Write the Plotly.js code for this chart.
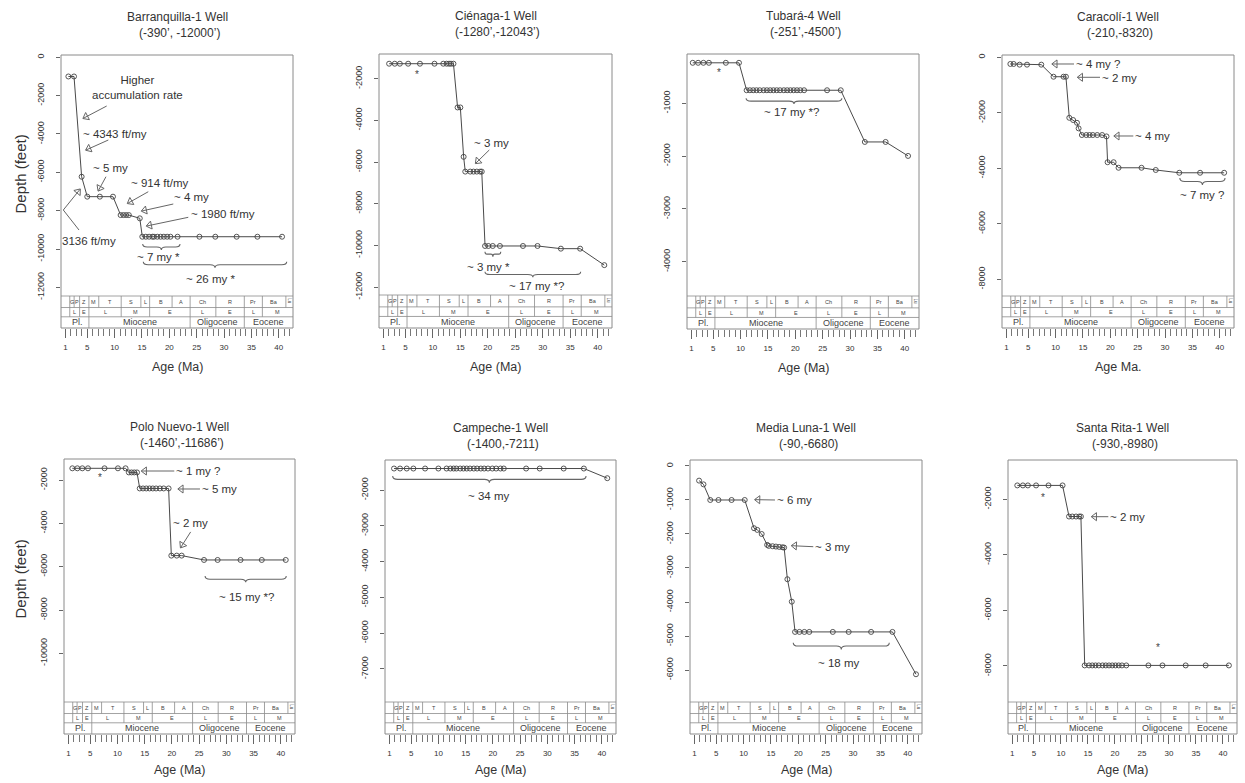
<!DOCTYPE html>
<html><head><meta charset="utf-8">
<script src="https://cdn.plot.ly/plotly-3.0.1.min.js"></script>
<style>html,body{margin:0;padding:0;background:#fff;} #chart{width:1245px;height:783px;}</style>
</head><body><div id="chart"></div>
<script>
// ---------------- data (age in Ma, depth in feet) ----------------
const barranquillaAge   = [1.55, 2.58, 3.97, 5.0, 7.3, 9.7, 11.1, 11.6, 12.1, 12.6, 14.6, 15.06, 15.7, 16.3, 16.9, 17.2, 17.8, 18.4, 19.0, 19.6, 20.2, 21.5, 25.5, 28.4, 32.3, 36.1, 40.6];
const barranquillaDepth = [-1000, -1000, -6230, -7270, -7270, -7270, -8230, -8230, -8230, -8230, -8400, -9360, -9360, -9360, -9360, -9360, -9360, -9360, -9360, -9360, -9360, -9360, -9360, -9360, -9360, -9360, -9360];

const cienagaAge   = [2.04, 3.07, 3.99, 5.5, 7.65, 10.3, 11.9, 12.5, 12.95, 13.3, 13.75, 14.5, 15.0, 15.6, 15.9, 16.8, 17.4, 18.0, 18.6, 18.9, 19.5, 20.1, 20.9, 22.2, 26.4, 29.05, 33.3, 36.8, 41.2];
const cienagaDepth = [-1280, -1280, -1280, -1280, -1280, -1280, -1280, -1280, -1280, -1280, -1280, -3380, -3380, -5750, -6460, -6460, -6460, -6460, -6460, -6460, -10030, -10030, -10030, -10030, -10030, -10030, -10160, -10160, -10950];

const tubaraAge   = [1.25, 2.23, 3.2, 4.2, 7.3, 9.7, 11.1, 11.7, 12.3, 12.9, 13.5, 14.2, 14.8, 15.4, 16.0, 16.6, 17.2, 17.9, 18.5, 19.1, 19.7, 20.3, 20.9, 21.6, 25.8, 28.3, 32.7, 36.5, 40.6];
const tubaraDepth = [-230, -230, -230, -230, -230, -230, -750, -750, -750, -750, -750, -750, -750, -750, -750, -750, -750, -750, -750, -750, -750, -750, -750, -750, -750, -750, -1730, -1730, -1995];

const caracoliAge   = [1.73, 2.33, 3.42, 4.77, 7.38, 9.62, 11.44, 11.88, 12.5, 13.2, 13.9, 14.2, 14.8, 15.6, 16.2, 16.8, 17.6, 18.5, 19.3, 19.5, 20.6, 21.5, 25.7, 28.3, 32.6, 36.4, 40.8];
const caracoliDepth = [-240, -240, -265, -265, -265, -700, -700, -700, -2180, -2260, -2360, -2560, -2800, -2800, -2800, -2800, -2800, -2800, -2850, -3780, -3780, -3980, -3980, -4060, -4160, -4160, -4160];

const poloNuevoAge   = [1.73, 2.65, 3.56, 4.6, 7.64, 10.1, 11.5, 12.1, 12.6, 13.1, 13.6, 14.1, 14.7, 15.3, 15.9, 16.5, 17.1, 17.8, 18.5, 19.4, 19.9, 20.9, 21.8, 25.9, 28.4, 32.6, 36.5, 40.9];
const poloNuevoDepth = [-1460, -1460, -1460, -1460, -1460, -1460, -1460, -1650, -1650, -1650, -1650, -2390, -2390, -2390, -2390, -2390, -2390, -2390, -2390, -2390, -5490, -5490, -5490, -5690, -5690, -5690, -5690, -5690];

const campecheAge   = [1.86, 2.96, 4.19, 5.41, 7.56, 10.0, 11.5, 12.2, 12.8, 13.3, 14.0, 14.6, 15.2, 15.8, 16.5, 17.1, 17.8, 18.4, 19.1, 19.9, 20.6, 21.4, 22.0, 26.1, 28.6, 33.0, 36.7, 41.0];
const campecheDepth = [-1400, -1400, -1400, -1400, -1400, -1400, -1400, -1400, -1400, -1400, -1400, -1400, -1400, -1400, -1400, -1400, -1400, -1400, -1400, -1400, -1400, -1400, -1400, -1400, -1400, -1400, -1400, -1670];

const mediaLunaAge   = [1.86, 2.66, 3.9, 5.4, 7.8, 10.2, 11.9, 12.5, 13.3, 14.3, 14.6, 15.3, 15.9, 16.5, 17.1, 17.4, 18.0, 18.8, 19.4, 20.2, 21.1, 22.0, 26.3, 29.2, 33.3, 37.2, 41.5];
const mediaLunaDepth = [-430, -540, -1000, -1000, -1000, -1000, -1830, -1880, -2000, -2320, -2350, -2360, -2370, -2380, -2390, -2400, -3330, -3990, -4880, -4880, -4880, -4880, -4880, -4880, -4880, -4880, -6125];

const santaRitaAge   = [1.92, 2.96, 3.88, 5.4, 7.7, 10.3, 11.5, 12.1, 12.8, 13.4, 13.7, 14.4, 15.2, 15.8, 16.4, 17.0, 17.7, 18.3, 18.9, 19.5, 20.1, 20.7, 21.3, 22.1, 26.2, 28.8, 33.1, 36.8, 41.1];
const santaRitaDepth = [-1500, -1500, -1500, -1500, -1500, -1500, -2620, -2620, -2620, -2620, -2620, -7980, -7980, -7980, -7980, -7980, -7980, -7980, -7980, -7980, -7980, -7980, -7980, -7980, -7980, -7980, -7980, -7980, -7980];

const wellNames  = ["Barranquilla-1 Well", "Ciénaga-1 Well", "Tubará-4 Well", "Caracolí-1 Well", "Polo Nuevo-1 Well", "Campeche-1 Well", "Media Luna-1 Well", "Santa Rita-1 Well"];
const wellRanges = ["(-390’, -12000’)", "(-1280’,-12043’)", "(-251’,-4500’)", "(-210,-8320)", "(-1460’,-11686’)", "(-1400,-7211)", "(-90,-6680)", "(-930,-8980)"];
const xTitles    = ["Age (Ma)", "Age (Ma)", "Age (Ma)", "Age Ma.", "Age (Ma)", "Age (Ma)", "Age (Ma)", "Age (Ma)"];
const ageTicks   = [1, 5, 10, 15, 20, 25, 30, 35, 40];

// geologic time scale (Berggren et al. 1995)
const stageBounds = [1.8, 2.6, 3.6, 5.3, 7.1, 11.2, 14.8, 16.4, 20.5, 23.8, 28.5, 33.7, 37.0, 41.3];
const stageLabels = ["G", "P", "Z", "M", "T", "S", "L", "B", "A", "Ch", "R", "Pr", "Ba", "Lu"];
const subBounds   = [1.8, 3.6, 5.3, 11.2, 16.4, 23.8, 28.5, 33.7, 37.0];
const subLabels   = ["L", "E", "L", "M", "E", "L", "E", "L", "M"];
const epochBounds = [1.0, 5.3, 23.8, 33.7];
const epochLabels = ["Pl.", "Miocene", "Oligocene", "Eocene"];

const wellAges   = [barranquillaAge, cienagaAge, tubaraAge, caracoliAge, poloNuevoAge, campecheAge, mediaLunaAge, santaRitaAge];
const wellDepths = [barranquillaDepth, cienagaDepth, tubaraDepth, caracoliDepth, poloNuevoDepth, campecheDepth, mediaLunaDepth, santaRitaDepth];

// ---------------- layout geometry (pixels) ----------------
const W = 1245, H = 783;
const X_RANGE = [0.2, 42.6];
const panels = [
  {box: [61, 293, 55, 296, 328],  yr: [-12452, 120],  yt: [0, -2000, -4000, -6000, -8000, -10000, -12000]},
  {box: [379, 612, 54, 295, 328], yr: [-12384, -814], yt: [-2000, -4000, -6000, -8000, -10000, -12000]},
  {box: [687, 919, 54, 296, 329], yr: [-4650, -63],   yt: [-1000, -2000, -3000, -4000]},
  {box: [1002, 1234, 55, 296, 328], yr: [-8600, 83],  yt: [0, -2000, -4000, -6000, -8000]},
  {box: [64, 295, 459, 702, 734], yr: [-12245, -1031], yt: [-2000, -4000, -6000, -8000, -10000]},
  {box: [385, 616, 460, 702, 734], yr: [-7922, -1162], yt: [-2000, -3000, -4000, -5000, -6000, -7000]},
  {box: [690, 922, 460, 702, 734], yr: [-6941, 176],  yt: [0, -1000, -2000, -3000, -4000, -5000, -6000]},
  {box: [1008, 1237, 460, 702, 734], yr: [-9297, -585], yt: [-2000, -4000, -6000, -8000]}
];

// ---------------- annotations (data coords) ----------------
const arrows = [ // [panel, tailAge, tailDepth, tipAge, tipDepth, head]
  [0, 8.55, -2541, 4.28, -3182, 1], [0, 8.85, -4314, 4.77, -4836, 1], [0, 8.42, -6229, 7.02, -6960, 1],
  [0, 16.15, -7012, 12.39, -7617, 1], [0, 20.72, -7653, 14.95, -8019, 1], [0, 23.46, -8347, 15.86, -8801, 1],
  [0, 0.62, -7966, 3.67, -6887, 1], [0, 0.62, -7966, 3.49, -9010, 0],
  [1, 20.27, -5422, 17.8, -6060, 1],
  [3, 13.36, -241, 9.39, -241, 1], [3, 18.11, -720, 14.04, -720, 1], [3, 24.2, -2835, 20.72, -2835, 1],
  [4, 20.44, -1585, 14.45, -1585, 1], [4, 25.16, -2415, 21.18, -2415, 1], [4, 23.45, -4396, 21.62, -5116, 1],
  [6, 15.73, -1000, 12.08, -990, 1], [6, 22.73, -2374, 18.78, -2344, 1],
  [7, 18.77, -2626, 15.7, -2626, 1]
];
const notes = [ // [panel, age, depth, text, anchor]
  [0, 14.1, -1550, "Higher<br>accumulation rate", "center"], [0, 10.07, -4017, "~ 4343 ft/my", "center"],
  [0, 9.16, -5791, "~ 5 my", "center"], [0, 18.17, -6573, "~ 914 ft/my", "center"], [0, 24.08, -7272, "~ 4 my", "center"],
  [0, 29.86, -8191, "~ 1980 ft/my", "center"], [0, 5.37, -9568, "3136 ft/my", "center"],
  [0, 17.98, -10403, "~ 7 my *", "center"], [0, 27.56, -11582, "~ 26 my *", "center"],
  [1, 20.71, -5101, "~ 3 my", "center"], [1, 20.09, -11024, "~ 3 my *", "center"], [1, 28.9, -11935, "~ 17 my *?", "center"],
  [2, 19.33, -1156, "~ 17 my *?", "center"],
  [3, 13.3, -250, "~ 4 my ?", "left"], [3, 18.05, -735, "~ 2 my", "left"], [3, 24.1, -2835, "~ 4 my", "left"], [3, 36.7, -4961, "~ 7 my ?", "center"],
  [4, 20.4, -1585, "~ 1 my ?", "left"], [4, 25.1, -2415, "~ 5 my", "left"], [4, 23.33, -3970, "~ 2 my", "center"], [4, 33.7, -7413, "~ 15 my *?", "center"],
  [5, 19.16, -2168, "~ 34 my", "center"],
  [6, 15.7, -1000, "~ 6 my", "left"], [6, 22.7, -2374, "~ 3 my", "left"], [6, 27.3, -5803, "~ 18 my", "center"],
  [7, 18.75, -2626, "~ 2 my", "left"]
];
const braces = [ // [panel, age0, age1, depthEnds, depthTip]
  [0, 15.13, 21.95, -9740, -10053], [0, 15.24, 41.45, -10664, -10977],
  [1, 19.49, 22.35, -10304, -10544], [1, 19.49, 36.9, -11264, -11534],
  [2, 11.0, 28.5, -903, -1011],
  [3, 32.7, 40.96, -4349, -4601],
  [4, 26.1, 40.99, -6431, -6723],
  [5, 1.61, 37.1, -1609, -1795],
  [6, 19.07, 36.62, -5197, -5394]
];
const stars = [[1, 7.06, -1630], [2, 6.05, -366], [4, 6.81, -1769], [7, 6.74, -1809], [7, 28.03, -7243]];

// ---------------- build figure ----------------
const FONT = "Liberation Sans, Arial, sans-serif";
const TXT = "#333";
const GRAY = "#666";
const FRAME = "#8a8a8a";
const px2x = p => p / W;
const px2y = p => 1 - p / H;

const traces = [], shapes = [], annotations = [];
const layout = {
  width: W, height: H, margin: {l: 0, r: 0, t: 0, b: 0},
  paper_bgcolor: "#fff", plot_bgcolor: "#fff", showlegend: false,
  font: {family: FONT, color: TXT}
};

function bracePath(x0, x1, yTop, yTip) {
  const xm = (x0 + x1) / 2, c = Math.min(0.9, (x1 - x0) * 0.12), yMid = (yTop + yTip) / 2;
  return `M${x0},${yTop} Q${x0},${yMid} ${x0 + c},${yMid} L${xm - c},${yMid} Q${xm},${yMid} ${xm},${yTip} ` +
         `Q${xm},${yMid} ${xm + c},${yMid} L${x1 - c},${yMid} Q${x1},${yMid} ${x1},${yTop}`;
}

panels.forEach((p, i) => {
  const [L, R, T, PB, B] = p.box;
  const n = i === 0 ? "" : String(i + 1);
  const xn = "x" + n, yn = "y" + n;
  layout["xaxis" + n] = {
    domain: [px2x(L), px2x(R)], range: X_RANGE, anchor: "free", position: px2y(B),
    tickvals: ageTicks, ticks: "outside", ticklen: 9, tickwidth: 1, tickcolor: "#666",
    tickfont: {size: 8, color: TXT, family: FONT}, ticklabelstandoff: 2,
    showgrid: false, zeroline: false, showline: false, fixedrange: true,
    minor: {dtick: 1, tick0: 0, ticks: "outside", ticklen: 7, tickwidth: 1, tickcolor: "#777", showgrid: false}
  };
  layout["yaxis" + n] = {
    domain: [px2y(PB), px2y(T)], range: p.yr, anchor: xn,
    tickvals: p.yt, ticktext: p.yt.map(v => String(v)), tickangle: -90,
    ticks: "outside", ticklen: 4, tickcolor: "#666", ticklabelstandoff: 8,
    tickfont: {size: 9, color: TXT, family: FONT},
    showgrid: false, zeroline: false, showline: false, fixedrange: true
  };

  // data trace
  traces.push({
    x: wellAges[i], y: wellDepths[i], xaxis: xn, yaxis: yn, type: "scatter", mode: "lines+markers",
    line: {color: "#4a4a4a", width: 1},
    marker: {symbol: "circle-open", size: 5, color: "#444", line: {width: 0.9}},
    hoverinfo: "x+y", cliponaxis: false
  });

  // frame and time scale
  shapes.push({type: "rect", xref: "paper", yref: "paper", x0: px2x(L), x1: px2x(R), y0: px2y(B), y1: px2y(T),
    line: {color: FRAME, width: 1}, layer: "above"});
  const r0 = PB, r1 = PB + (B - PB) * 0.36, r2 = PB + (B - PB) * 0.65, r3 = B;
  [r0, r1, r2].forEach(r => shapes.push({type: "line", xref: "paper", yref: "paper",
    x0: px2x(L), x1: px2x(R), y0: px2y(r), y1: px2y(r), line: {color: FRAME, width: 0.8}}));
  const rowDef = [
    {bounds: stageBounds, labels: stageLabels, y0: r0, y1: r1, size: 5.5, drawFirst: true},
    {bounds: subBounds, labels: subLabels, y0: r1, y1: r2, size: 5.5, drawFirst: true},
    {bounds: epochBounds, labels: epochLabels, y0: r2, y1: r3, size: 9, drawFirst: false}
  ];
  rowDef.forEach(rd => {
    rd.bounds.forEach((b, k) => {
      if (k > 0 || rd.drawFirst) {
        shapes.push({type: "line", xref: xn, yref: "paper", x0: b, x1: b, y0: px2y(rd.y0), y1: px2y(rd.y1),
          line: {color: FRAME, width: 0.8}});
      }
      const end = k + 1 < rd.bounds.length ? rd.bounds[k + 1] : X_RANGE[1];
      const isTiny = rd.labels[k] === "Lu";
      annotations.push({xref: xn, yref: "paper", x: (b + end) / 2, y: px2y((rd.y0 + rd.y1) / 2),
        text: rd.labels[k], showarrow: false, textangle: isTiny ? 90 : 0,
        font: {size: isTiny ? 4.5 : rd.size, color: "#444", family: FONT}, xanchor: "center", yanchor: "middle"});
    });
  });

  // titles
  const cx = (L + R) / 2;
  const ty = i < 4 ? [T - 38, T - 22] : [T - 32, T - 16];
  annotations.push({xref: "paper", yref: "paper", x: px2x(cx), y: px2y(ty[0]), text: wellNames[i], showarrow: false,
    font: {size: 12, color: TXT, family: FONT}, xanchor: "center", yanchor: "middle"});
  annotations.push({xref: "paper", yref: "paper", x: px2x(cx + 2), y: px2y(ty[1]), text: wellRanges[i], showarrow: false,
    font: {size: 12, color: TXT, family: FONT}, xanchor: "center", yanchor: "middle"});
  annotations.push({xref: "paper", yref: "paper", x: px2x(cx), y: px2y(B + (i < 4 ? 39 : 36)), text: xTitles[i], showarrow: false,
    font: {size: 12.5, color: TXT, family: FONT}, xanchor: "center", yanchor: "middle"});
  if (i === 0 || i === 4) {
    annotations.push({xref: "paper", yref: "paper", x: px2x(20), y: px2y((T + PB) / 2 - 2), text: "Depth (feet)", showarrow: false,
      textangle: -90, font: {size: 15, color: TXT, family: FONT}, xanchor: "center", yanchor: "middle"});
  }
});

// arrows: line + white open-style triangle head
const headTraces = panels.map(() => ({x: [], y: [], a: []}));
arrows.forEach(([pi, tx, ty, hx, hy, head]) => {
  const p = panels[pi];
  const n = pi === 0 ? "" : String(pi + 1);
  shapes.push({type: "line", xref: "x" + n, yref: "y" + n, x0: tx, y0: ty, x1: hx, y1: hy,
    line: {color: GRAY, width: 1}});
  if (head) {
    const sx = (p.box[1] - p.box[0]) / (X_RANGE[1] - X_RANGE[0]);
    const sy = (p.box[3] - p.box[2]) / (p.yr[1] - p.yr[0]);
    const dxs = (hx - tx) * sx, dys = -(hy - ty) * sy;
    const len = Math.hypot(dxs, dys), ux = dxs / len, uy = dys / len;
    const back = 3;
    headTraces[pi].x.push(hx - ux * back / sx);
    headTraces[pi].y.push(hy + uy * back / sy);
    headTraces[pi].a.push(Math.atan2(dxs, -dys) * 180 / Math.PI);
  }
});
headTraces.forEach((h, pi) => {
  if (!h.x.length) return;
  const n = pi === 0 ? "" : String(pi + 1);
  traces.push({x: h.x, y: h.y, xaxis: "x" + n, yaxis: "y" + n, type: "scatter", mode: "markers",
    marker: {symbol: "triangle-up", size: 7, color: "#fff", angle: h.a, line: {color: GRAY, width: 1}},
    hoverinfo: "skip", cliponaxis: false});
});

braces.forEach(([pi, a0, a1, yTop, yTip]) => {
  const n = pi === 0 ? "" : String(pi + 1);
  shapes.push({type: "path", xref: "x" + n, yref: "y" + n, path: bracePath(a0, a1, yTop, yTip),
    line: {color: GRAY, width: 1.1}});
});

notes.forEach(([pi, x, y, text, anchor]) => {
  const n = pi === 0 ? "" : String(pi + 1);
  annotations.push({xref: "x" + n, yref: "y" + n, x, y, text, showarrow: false, xanchor: anchor, yanchor: "middle",
    font: {size: 11.5, color: TXT, family: FONT}, align: "center"});
});

stars.forEach(([pi, x, y]) => {
  const n = pi === 0 ? "" : String(pi + 1);
  annotations.push({xref: "x" + n, yref: "y" + n, x, y, text: "*", showarrow: false, xanchor: "center", yanchor: "middle",
    yshift: -3, font: {size: 10, color: "#444", family: FONT}});
});

layout.shapes = shapes;
layout.annotations = annotations;
Plotly.newPlot("chart", traces, layout, {displayModeBar: false, staticPlot: true});
</script>
</body></html>
